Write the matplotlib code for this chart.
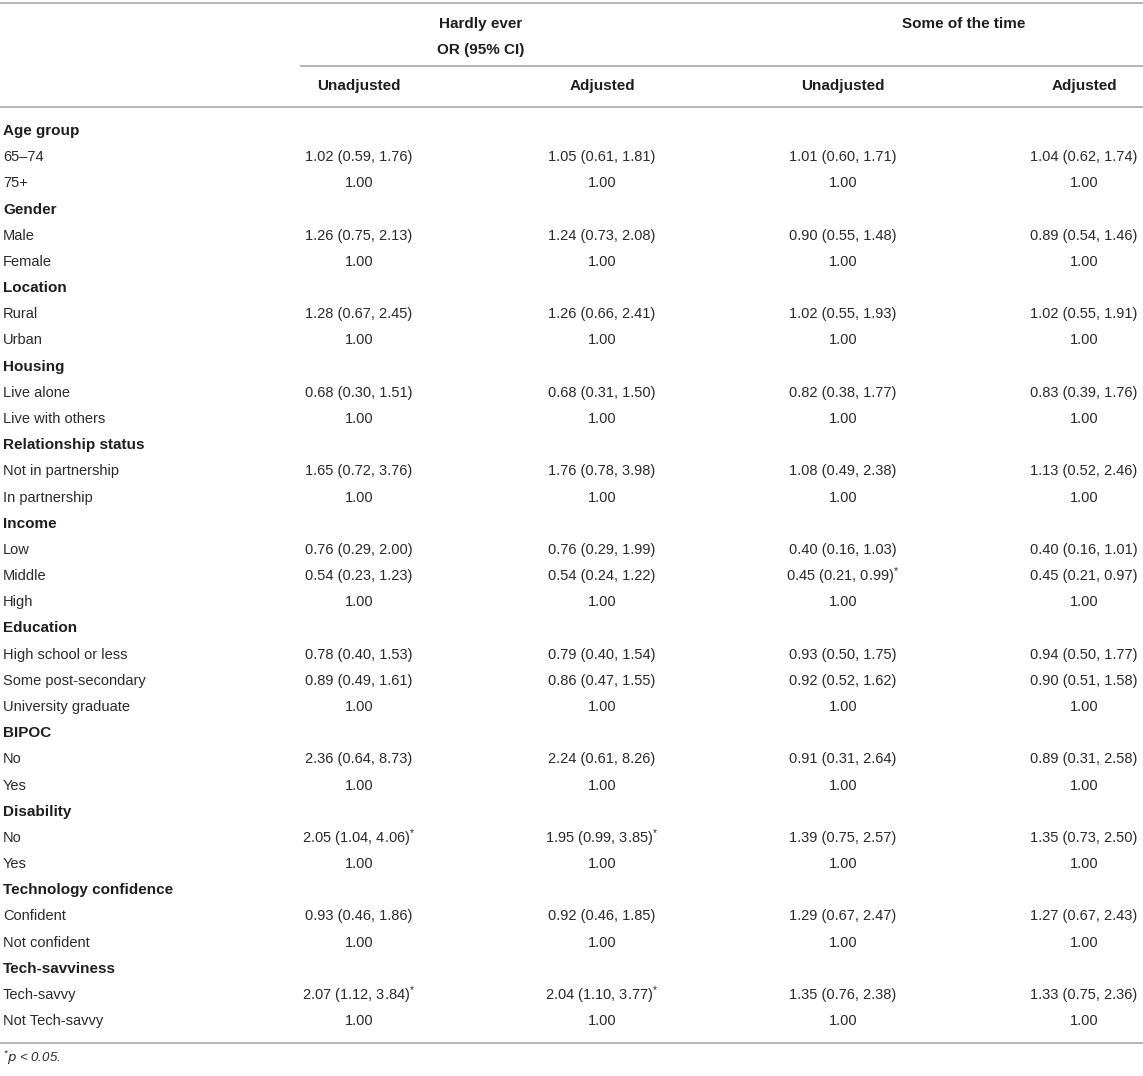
import matplotlib
matplotlib.use("Agg")
import matplotlib.pyplot as plt

plt.rcParams['font.family'] = ['Liberation Sans', 'DejaVu Sans']
plt.rcParams['mathtext.default'] = 'regular'

# ---------------- data ----------------
col_groups = ["Hardly ever", "Some of the time"]
col_sub = "OR (95% CI)"
col_names = ["Unadjusted", "Adjusted", "Unadjusted", "Adjusted"]

groups = ["Age group", "Gender", "Location", "Housing", "Relationship status",
          "Income", "Education", "BIPOC", "Disability",
          "Technology confidence", "Tech-savviness"]

levels = [
    ["65–74", "75+"],
    ["Male", "Female"],
    ["Rural", "Urban"],
    ["Live alone", "Live with others"],
    ["Not in partnership", "In partnership"],
    ["Low", "Middle", "High"],
    ["High school or less", "Some post-secondary", "University graduate"],
    ["No", "Yes"],
    ["No", "Yes"],
    ["Confident", "Not confident"],
    ["Tech-savvy", "Not Tech-savvy"],
]

hardly_unadj = [
    ["1.02 (0.59, 1.76)", "1.00"],
    ["1.26 (0.75, 2.13)", "1.00"],
    ["1.28 (0.67, 2.45)", "1.00"],
    ["0.68 (0.30, 1.51)", "1.00"],
    ["1.65 (0.72, 3.76)", "1.00"],
    ["0.76 (0.29, 2.00)", "0.54 (0.23, 1.23)", "1.00"],
    ["0.78 (0.40, 1.53)", "0.89 (0.49, 1.61)", "1.00"],
    ["2.36 (0.64, 8.73)", "1.00"],
    ["2.05 (1.04, 4.06)*", "1.00"],
    ["0.93 (0.46, 1.86)", "1.00"],
    ["2.07 (1.12, 3.84)*", "1.00"],
]

hardly_adj = [
    ["1.05 (0.61, 1.81)", "1.00"],
    ["1.24 (0.73, 2.08)", "1.00"],
    ["1.26 (0.66, 2.41)", "1.00"],
    ["0.68 (0.31, 1.50)", "1.00"],
    ["1.76 (0.78, 3.98)", "1.00"],
    ["0.76 (0.29, 1.99)", "0.54 (0.24, 1.22)", "1.00"],
    ["0.79 (0.40, 1.54)", "0.86 (0.47, 1.55)", "1.00"],
    ["2.24 (0.61, 8.26)", "1.00"],
    ["1.95 (0.99, 3.85)*", "1.00"],
    ["0.92 (0.46, 1.85)", "1.00"],
    ["2.04 (1.10, 3.77)*", "1.00"],
]

some_unadj = [
    ["1.01 (0.60, 1.71)", "1.00"],
    ["0.90 (0.55, 1.48)", "1.00"],
    ["1.02 (0.55, 1.93)", "1.00"],
    ["0.82 (0.38, 1.77)", "1.00"],
    ["1.08 (0.49, 2.38)", "1.00"],
    ["0.40 (0.16, 1.03)", "0.45 (0.21, 0.99)*", "1.00"],
    ["0.93 (0.50, 1.75)", "0.92 (0.52, 1.62)", "1.00"],
    ["0.91 (0.31, 2.64)", "1.00"],
    ["1.39 (0.75, 2.57)", "1.00"],
    ["1.29 (0.67, 2.47)", "1.00"],
    ["1.35 (0.76, 2.38)", "1.00"],
]

some_adj = [
    ["1.04 (0.62, 1.74)", "1.00"],
    ["0.89 (0.54, 1.46)", "1.00"],
    ["1.02 (0.55, 1.91)", "1.00"],
    ["0.83 (0.39, 1.76)", "1.00"],
    ["1.13 (0.52, 2.46)", "1.00"],
    ["0.40 (0.16, 1.01)", "0.45 (0.21, 0.97)", "1.00"],
    ["0.94 (0.50, 1.77)", "0.90 (0.51, 1.58)", "1.00"],
    ["0.89 (0.31, 2.58)", "1.00"],
    ["1.35 (0.73, 2.50)", "1.00"],
    ["1.27 (0.67, 2.43)", "1.00"],
    ["1.33 (0.75, 2.36)", "1.00"],
]

# ---------------- layout ----------------
W, H = 1143, 1076
fig = plt.figure(figsize=(W / 100, H / 100), dpi=100)
ax = fig.add_axes([0, 0, 1, 1])
ax.set_xlim(0, W)
ax.set_ylim(H, 0)
ax.axis('off')

FS = 10.5
FSB = 11
txt_col = '#2a2a2a'
bold_col = '#1e1e1e'
line_col = '#b4b4b4'
lw = 1.4
col_x = [359, 602, 843, 1084]
left_x = 3

def fmt(s):
    if s.endswith('*'):
        return s[:-1] + r'$^{*}$'
    return s

# header lines
ax.plot([0, W], [3, 3], color=line_col, lw=lw, solid_capstyle='butt')
ax.plot([300, W], [66, 66], color=line_col, lw=lw, solid_capstyle='butt')
ax.plot([0, W], [107, 107], color=line_col, lw=lw, solid_capstyle='butt')

ax.text((col_x[0] + col_x[1]) / 2, 24, col_groups[0], ha='center', va='center',
        fontsize=FSB, fontweight='bold', color=bold_col)
ax.text((col_x[0] + col_x[1]) / 2, 50, col_sub, ha='center', va='center',
        fontsize=FSB, fontweight='bold', color=bold_col)
ax.text((col_x[2] + col_x[3]) / 2, 24, col_groups[1], ha='center', va='center',
        fontsize=FSB, fontweight='bold', color=bold_col)
for x, name in zip(col_x, col_names):
    ax.text(x, 86, name, ha='center', va='center', fontsize=FSB,
            fontweight='bold', color=bold_col)

# body
y0 = 131
step = 26.18
r = 0
columns = [hardly_unadj, hardly_adj, some_unadj, some_adj]
for gi, g in enumerate(groups):
    y = y0 + r * step
    ax.text(left_x, y, g, ha='left', va='center', fontsize=FSB,
            fontweight='bold', color=bold_col)
    r += 1
    for li, lev in enumerate(levels[gi]):
        y = y0 + r * step
        ax.text(left_x, y, lev, ha='left', va='center', fontsize=FS,
                color=txt_col)
        for x, col in zip(col_x, columns):
            ax.text(x, y, fmt(col[gi][li]), ha='center', va='center',
                    fontsize=FS, color=txt_col)
        r += 1

ybot = y0 + (r - 1) * step + 22
ax.plot([0, W], [ybot, ybot], color=line_col, lw=lw, solid_capstyle='butt')
ax.text(left_x, ybot + 15, r'$^{*}$' + r'$\it{p}$' + ' < 0.05.', ha='left',
        va='center', fontsize=FS - 1, style='italic', color=txt_col)

fig.savefig('out.png', dpi=100)
